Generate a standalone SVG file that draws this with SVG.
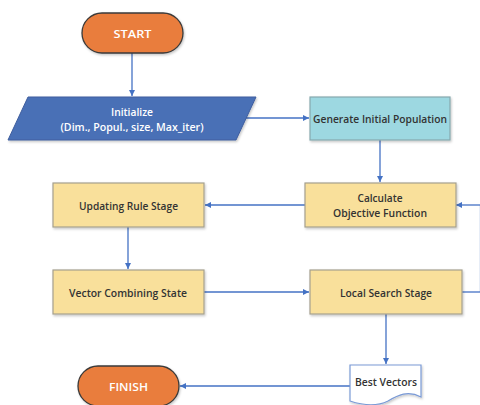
<svg xmlns="http://www.w3.org/2000/svg" width="480" height="405" viewBox="0 0 480 405">
<defs>
<marker id="ah" viewBox="0 0 10 10" refX="10" refY="5" markerWidth="6" markerHeight="6" markerUnits="userSpaceOnUse" orient="auto">
<path d="M0,0 L10,5 L0,10 Z" fill="#4472C4"/>
</marker>
<filter id="sh" x="-10%" y="-10%" width="130%" height="140%">
<feDropShadow dx="1" dy="1.5" stdDeviation="1.2" flood-color="#000" flood-opacity="0.22"/>
</filter>
<style>
.t{font-family:"Open Sans","Noto Sans",sans-serif;font-size:11.5px;font-weight:600;text-anchor:middle;dominant-baseline:central}
.w{fill:#FFFFFF}
.d{fill:#333333}
.term{fill:#E97D3C;stroke:#3A3A3A;stroke-width:1.3}
.proc{fill:#F9E09B;stroke:#A5A08E;stroke-width:1.2}
.conn{fill:none;stroke:#4472C4;stroke-width:1.3}
</style>
</defs>
<g id="connectors">
<path class="conn" d="M132,53 V96" marker-end="url(#ah)"/>
<path class="conn" d="M246,118 H309" marker-end="url(#ah)"/>
<path class="conn" d="M380,140 V182" marker-end="url(#ah)"/>
<path class="conn" d="M305,205 H205" marker-end="url(#ah)"/>
<path class="conn" d="M128,227 V269" marker-end="url(#ah)"/>
<path class="conn" d="M204,292 H309" marker-end="url(#ah)"/>
<path class="conn" d="M462,292 H480"/>
<path class="conn" d="M479.8,205 V292" stroke-opacity="0.15"/>
<path class="conn" d="M480,205 H456" marker-end="url(#ah)"/>
<path class="conn" d="M386,314 V364" marker-end="url(#ah)"/>
<path class="conn" d="M350,386 H180" marker-end="url(#ah)"/>
</g>
<g id="start">
<rect class="term" x="82" y="13" width="101" height="40" rx="20" filter="url(#sh)"/>
<text class="t w" x="132.5" y="33" textLength="38" lengthAdjust="spacingAndGlyphs">START</text>
</g>
<g id="initialize">
<path d="M28,97 H256 L236,140 H8 Z" fill="#4A6FB6" stroke="#3E5E9E" stroke-width="1" filter="url(#sh)"/>
<text class="t w" x="132" y="111" textLength="42" lengthAdjust="spacingAndGlyphs">Initialize</text>
<text class="t w" x="132" y="126" textLength="143" lengthAdjust="spacingAndGlyphs">(Dim., Popul., size, Max_iter)</text>
</g>
<g id="generate">
<rect x="310" y="97" width="140" height="43" fill="#9DD8E1" stroke="#86A9AE" stroke-width="1.2" filter="url(#sh)"/>
<text class="t d" x="380" y="118" textLength="134" lengthAdjust="spacingAndGlyphs">Generate Initial Population</text>
</g>
<g id="calculate">
<rect class="proc" x="305" y="183" width="151" height="44" filter="url(#sh)"/>
<text class="t d" x="380" y="197" textLength="45" lengthAdjust="spacingAndGlyphs">Calculate</text>
<text class="t d" x="380" y="212" textLength="94" lengthAdjust="spacingAndGlyphs">Objective Function</text>
</g>
<g id="updating">
<rect class="proc" x="53" y="183" width="151" height="44" filter="url(#sh)"/>
<text class="t d" x="128.5" y="205" textLength="99" lengthAdjust="spacingAndGlyphs">Updating Rule Stage</text>
</g>
<g id="vector">
<rect class="proc" x="53" y="270" width="151" height="44" filter="url(#sh)"/>
<text class="t d" x="128" y="292" textLength="118" lengthAdjust="spacingAndGlyphs">Vector Combining State</text>
</g>
<g id="local">
<rect class="proc" x="310" y="270" width="152" height="44" filter="url(#sh)"/>
<text class="t d" x="386" y="292" textLength="92" lengthAdjust="spacingAndGlyphs">Local Search Stage</text>
</g>
<g id="best">
<path d="M350,365 H421 V397 C408,390 398,395 388,401 C376,407 362,405 350,401 Z" fill="#FFFFFF" stroke="#7A9AD6" stroke-width="1.2" filter="url(#sh)"/>
<text class="t d" x="386" y="381" textLength="62" lengthAdjust="spacingAndGlyphs">Best Vectors</text>
</g>
<g id="finish">
<rect class="term" x="78" y="366" width="101" height="40" rx="20" filter="url(#sh)"/>
<text class="t w" x="128.5" y="386" textLength="39" lengthAdjust="spacingAndGlyphs">FINISH</text>
</g>
</svg>
